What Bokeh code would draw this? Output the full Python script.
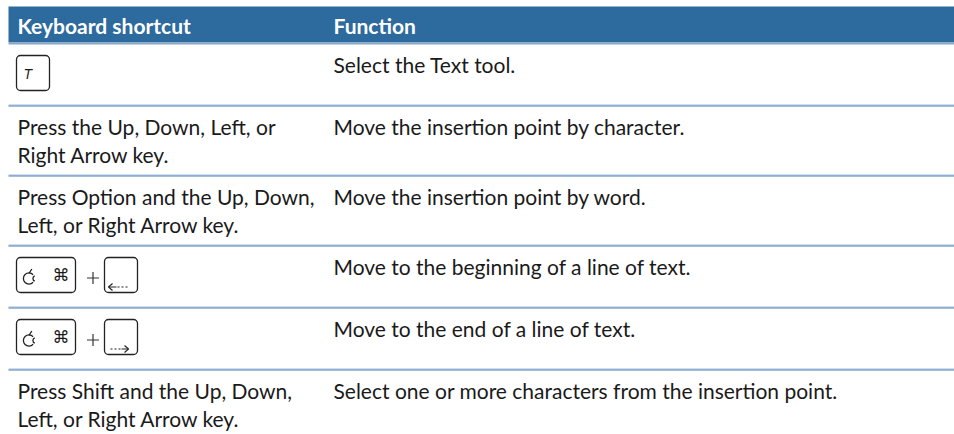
from bokeh.plotting import figure
from bokeh.models import Range1d
from bokeh.embed import file_html
from bokeh.resources import INLINE
from bokeh.core.properties import value
import math

# ---------------- data ----------------
headers = ["Keyboard shortcut", "Function"]
shortcut_text = [
    "",
    "Press the Up, Down, Left, or\nRight Arrow key.",
    "Press Option and the Up, Down,\nLeft, or Right Arrow key.",
    "",
    "",
    "Press Shift and the Up, Down,\nLeft, or Right Arrow key.",
]
shortcut_keys = [["T"], [], [], ["cmd", "+", "left"], ["cmd", "+", "right"], []]
functions = [
    "Select the Text tool.",
    "Move the insertion point by character.",
    "Move the insertion point by word.",
    "Move to the beginning of a line of text.",
    "Move to the end of a line of text.",
    "Select one or more characters from the insertion point.",
]

# ---------------- layout / style ----------------
FONT = "Lato"
FSIZE = "21px"
TXT = "#1a1a1a"
HEAD_BG = "#2d6a9e"
HEAD_BAND = "#88a8c8"
SEP_LIGHT = "#a3bfda"
SEP_DARK = "#4a7fb6"
KEY_LINE = "#222222"

LEFT, RIGHT = 8, 954
COL1_X, COL2_X = 17, 333
HEAD_TOP, HEAD_BOTTOM = 6, 42
LINE_H = 28
BASE_OFF = 21
KEY_OFF = 12
KEY_H = 35
KEY_X = 16

p = figure(width=954, height=434, x_range=Range1d(0, 954), y_range=Range1d(434, 0),
           output_backend="svg", toolbar_location=None, min_border=0,
           x_axis_location=None, y_axis_location=None)
p.grid.visible = False
p.outline_line_color = None
p.background_fill_color = "white"
p.border_fill_color = "white"

# header
p.quad(left=[LEFT], right=[RIGHT], top=[HEAD_TOP], bottom=[HEAD_BOTTOM],
       fill_color=HEAD_BG, line_color=None)
p.quad(left=[LEFT], right=[RIGHT], top=[HEAD_BOTTOM], bottom=[HEAD_BOTTOM + 2],
       fill_color=HEAD_BAND, line_color=None)
p.text(x=[COL1_X, COL2_X], y=[HEAD_BOTTOM - 17, HEAD_BOTTOM - 17], text=headers,
       text_font=value(FONT), text_font_size=FSIZE, text_font_style="bold",
       text_color="white", text_baseline="alphabetic")

# rows
tx, ty, tt = [], [], []
sep_y = []
key_l, key_r, key_t, key_b = [], [], [], []
top = HEAD_BOTTOM + 1
for i, func in enumerate(functions):
    lines = shortcut_text[i].split("\n") if shortcut_text[i] else []
    h = 70 if len(lines) > 1 else 62
    for j, ln in enumerate(lines):
        tx.append(COL1_X); ty.append(top + BASE_OFF + j * LINE_H); tt.append(ln)
    tx.append(COL2_X); ty.append(top + BASE_OFF); tt.append(func)

    keys = shortcut_keys[i]
    kx = KEY_X
    kt = top + KEY_OFF
    kb = kt + KEY_H
    for k in keys:
        if k == "T":
            key_l.append(kx); key_r.append(kx + 33); key_t.append(kt); key_b.append(kb)
            p.text(x=[kx + 7], y=[kt + 26], text=["T"], text_font=value("Liberation Sans"),
                   text_font_style="italic", text_font_size="14px", text_color=TXT)
            kx += 33
        elif k == "cmd":
            key_l.append(kx); key_r.append(kx + 59); key_t.append(kt); key_b.append(kb)
            cx, cy = kx + 12.5, kt + 21
            p.arc(x=[cx], y=[cy], radius=5.6, start_angle=0.75, end_angle=2 * math.pi - 0.75,
                  line_color=KEY_LINE, line_width=1.3)
            p.arc(x=[cx + 6.8], y=[cy], radius=2.9, start_angle=math.pi - 1.2,
                  end_angle=math.pi + 1.2, line_color=KEY_LINE, line_width=1.3)
            p.segment(x0=[cx], y0=[cy - 5], x1=[cx + 2.8], y1=[cy - 9.5],
                      line_color=KEY_LINE, line_width=1.3)
            p.text(x=[kx + 36], y=[kt + 27], text=["\u2318"], text_font=value("DejaVu Sans"),
                   text_font_size="17px", text_color=TXT)
            kx += 59
        elif k == "+":
            cx, cy = kx + 17.5, kt + 20.5
            p.segment(x0=[cx - 6, cx], y0=[cy, cy - 6], x1=[cx + 6, cx], y1=[cy, cy + 6],
                      line_color="#333333", line_width=1.2)
            kx += 29
        elif k in ("left", "right"):
            key_l.append(kx); key_r.append(kx + 33); key_t.append(kt); key_b.append(kb)
            ay = kt + 29.5
            if k == "left":
                p.segment(x0=[kx + 4, kx + 4, kx + 4], y0=[ay, ay, ay],
                          x1=[kx + 8, kx + 8, kx + 12], y1=[ay - 3.5, ay + 3.5, ay],
                          line_color=KEY_LINE, line_width=1.1)
                p.segment(x0=[kx + 13], y0=[ay], x1=[kx + 24], y1=[ay],
                          line_color=KEY_LINE, line_width=1.1, line_dash="2 2")
            else:
                p.segment(x0=[kx + 6], y0=[ay], x1=[kx + 16], y1=[ay],
                          line_color=KEY_LINE, line_width=1.1, line_dash="2 2")
                p.segment(x0=[kx + 24, kx + 24, kx + 17], y0=[ay, ay, ay],
                          x1=[kx + 20, kx + 20, kx + 24], y1=[ay - 3.5, ay + 3.5, ay],
                          line_color=KEY_LINE, line_width=1.1)
            kx += 33
    top += h
    if i < len(functions) - 1:
        sep_y.append(top)

p.quad(left=key_l, right=key_r, top=key_t, bottom=key_b, border_radius=4,
       fill_color=None, line_color=KEY_LINE, line_width=1.3)

p.segment(x0=[LEFT] * len(sep_y), x1=[RIGHT] * len(sep_y), y0=[y - 0.5 for y in sep_y],
          y1=[y - 0.5 for y in sep_y], line_color=SEP_LIGHT, line_width=1)
p.segment(x0=[LEFT] * len(sep_y), x1=[RIGHT] * len(sep_y), y0=[y + 0.5 for y in sep_y],
          y1=[y + 0.5 for y in sep_y], line_color=SEP_DARK, line_width=1)

p.text(x=tx, y=ty, text=tt, text_font=value(FONT), text_font_size=FSIZE,
       text_color=TXT, text_baseline="alphabetic")

open("out.html", "w").write(file_html(p, INLINE))
